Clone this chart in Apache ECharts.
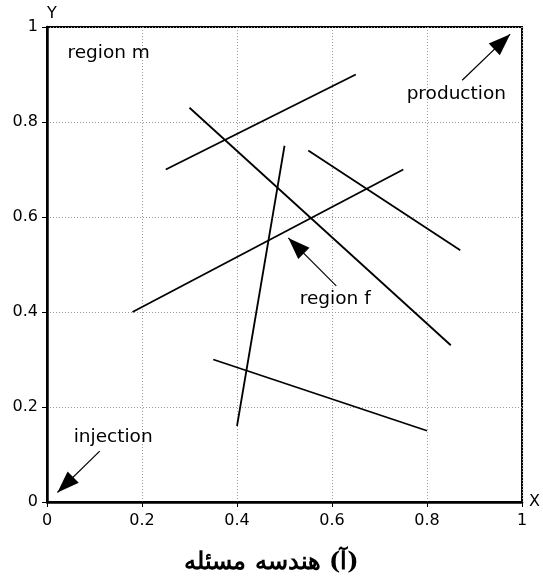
<!DOCTYPE html>
<html>
<head>
<meta charset="utf-8">
<script src="https://cdn.jsdelivr.net/npm/echarts@6/dist/echarts.min.js"></script>
<style>
  html, body { margin: 0; padding: 0; background: #fff; }
  #chart { width: 543px; height: 582px; }
</style>
</head>
<body>
<div id="chart"></div>
<script>
// fracture segments: [x1, y1, x2, y2]
const fractures = [
  [0.25, 0.70, 0.65, 0.90],
  [0.30, 0.83, 0.85, 0.33],
  [0.40, 0.16, 0.50, 0.75],
  [0.55, 0.74, 0.87, 0.53],
  [0.18, 0.40, 0.75, 0.70],
  [0.35, 0.30, 0.80, 0.15]
];
// annotation arrows: [tailX, tailY, tipX, tipY]
const arrows = [
  [0.874, 0.888, 0.975, 0.985],
  [0.111, 0.107, 0.022, 0.020],
  [0.609, 0.455, 0.508, 0.556]
];
// text labels: [x, y, text]
const notes = [
  [0.042, 0.945, 'region m'],
  [0.756, 0.859, 'production'],
  [0.055, 0.137, 'injection'],
  [0.531, 0.427, 'region f']
];
const ticks = [0, 0.2, 0.4, 0.6, 0.8, 1];
const caption = '\u202B(آ) هندسه مسئله\u202C';

const chart = echarts.init(document.getElementById('chart'), null, { renderer: 'canvas' });

const axisCommon = {
  type: 'value',
  min: 0,
  max: 1,
  interval: 0.2,
  axisLine: { show: true, lineStyle: { color: '#000', width: 2.5 } },
  axisTick: { show: true, length: 5, lineStyle: { color: '#000', width: 1 } },
  axisLabel: { color: '#000', fontSize: 16, fontFamily: 'DejaVu Sans', margin: 9 },
  splitLine: { show: true, lineStyle: { color: '#999', type: [1, 2], width: 1 } },
  nameTextStyle: { color: '#000', fontSize: 16, fontFamily: 'DejaVu Sans' }
};

chart.setOption({
  animation: false,
  title: {
    text: caption,
    left: 'center',
    top: 546,
    textStyle: { fontSize: 24, fontWeight: 'bold', fontFamily: 'DejaVu Serif', color: '#000' }
  },
  grid: {
    left: 47, right: 20, top: 27, bottom: 80,
    show: true, borderColor: '#000', borderWidth: 2, backgroundColor: 'transparent'
  },
  xAxis: Object.assign({}, axisCommon, {
    name: 'X',
    nameLocation: 'end',
    nameGap: 7,
    nameTextStyle: Object.assign({}, axisCommon.nameTextStyle, { padding: [0, 0, 18, 0] }),
    axisLabel: Object.assign({}, axisCommon.axisLabel, {
      margin: 11,
      formatter: (v) => (ticks.indexOf(v) >= 0 ? String(v) : '')
    })
  }),
  yAxis: Object.assign({}, axisCommon, {
    name: 'Y',
    nameLocation: 'end',
    nameGap: 5,
    nameTextStyle: Object.assign({}, axisCommon.nameTextStyle, { padding: [0, 0, 0, 10] })
  }),
  series: [
    {
      type: 'lines',
      coordinateSystem: 'cartesian2d',
      polyline: false,
      lineStyle: { color: '#000', width: 1.8, opacity: 1 },
      data: fractures.map((f) => ({ coords: [[f[0], f[1]], [f[2], f[3]]] })),
      z: 3
    },
    {
      type: 'lines',
      coordinateSystem: 'cartesian2d',
      lineStyle: { color: '#000', width: 1.2, opacity: 1 },
      data: arrows.map((a) => ({ coords: [[a[0], a[1]], [a[2], a[3]]] })),
      z: 4
    },
    {
      type: 'scatter',
      symbolSize: 1,
      itemStyle: { color: 'rgba(0,0,0,0)' },
      silent: true,
      data: notes.map((n) => ({ value: [n[0], n[1]], name: n[2] })),
      label: {
        show: true,
        position: 'right',
        distance: 0,
        formatter: (p) => p.name,
        color: '#000',
        opacity: 1,
        textBorderWidth: 0,
        fontSize: 18.5,
        fontFamily: 'DejaVu Sans'
      },
      z: 5
    }
  ]
});

// filled arrow heads, placed with the grid's own scale
function drawHeads() {
  const headLen = 22;
  const headHalf = 8;
  const heads = arrows.map((a) => {
    const tail = chart.convertToPixel({ gridIndex: 0 }, [a[0], a[1]]);
    const tip = chart.convertToPixel({ gridIndex: 0 }, [a[2], a[3]]);
    const dx = tip[0] - tail[0];
    const dy = tip[1] - tail[1];
    const len = Math.sqrt(dx * dx + dy * dy);
    const ux = dx / len;
    const uy = dy / len;
    const bx = tip[0] - ux * headLen;
    const by = tip[1] - uy * headLen;
    return {
      type: 'polygon',
      z: 10,
      shape: { points: [tip, [bx - uy * headHalf, by + ux * headHalf], [bx + uy * headHalf, by - ux * headHalf]] },
      style: { fill: '#000' }
    };
  });
  chart.setOption({ graphic: heads });
}
drawHeads();
</script>
</body>
</html>
